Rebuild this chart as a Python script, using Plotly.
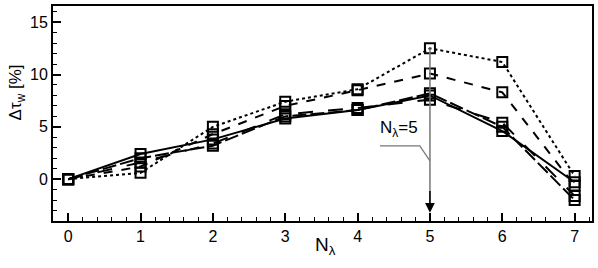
import plotly.graph_objects as go

n_lambda = [0, 1, 2, 3, 4, 5, 6, 7]
dotted_vals = [0, 0.6, 5.0, 7.4, 8.6, 12.5, 11.2, 0.3]
dashed_vals = [0, 1.2, 4.3, 7.0, 8.5, 10.1, 8.3, -0.6]
solid_vals = [0, 2.4, 3.8, 5.8, 6.6, 8.0, 4.6, -0.3]
longdash1_vals = [0, 1.6, 3.4, 6.2, 6.8, 7.6, 5.4, -1.6]
longdash2_vals = [0, 2.0, 3.2, 6.0, 6.6, 8.2, 5.0, -2.0]

series = [
    (dotted_vals, "dot"),
    (dashed_vals, "dash"),
    (solid_vals, "solid"),
    (longdash1_vals, "longdash"),
    (longdash2_vals, "14px,4px"),
]

fig = go.Figure()
for vals, dash in series:
    fig.add_trace(go.Scatter(
        x=n_lambda, y=vals, mode="lines+markers",
        line=dict(color="black", width=2, dash=dash),
        marker=dict(symbol="square-open", size=10, color="black",
                    line=dict(width=2, color="black")),
        showlegend=False,
    ))

# vertical gray line at N=5 with arrow
fig.add_shape(type="line", x0=5, x1=5, y0=12.5, y1=-3.0,
              line=dict(color="#777777", width=1.5))
fig.add_annotation(x=5, y=-3.2, ax=5, ay=-1.0, xref="x", yref="y",
                   axref="x", ayref="y", text="", showarrow=True,
                   arrowhead=2, arrowsize=1.3, arrowwidth=1.5,
                   arrowcolor="black")
# leader line from label
fig.add_shape(type="path", path="M 4.31,3.18 L 4.86,3.18 L 5.0,1.75",
              line=dict(color="#777777", width=1.2))
fig.add_annotation(x=4.57, y=4.75, xref="x", yref="y",
                   text="N<sub>λ</sub>=5", showarrow=False,
                   font=dict(size=17, color="black"))

# axis titles
fig.add_annotation(x=0.505, y=-0.118, xref="paper", yref="paper",
                   xanchor="center", yanchor="middle",
                   text="N<sub>λ</sub>", showarrow=False,
                   font=dict(size=19, color="black"))
fig.add_annotation(x=-0.066, y=0.6, xref="paper", yref="paper",
                   xanchor="center", yanchor="middle",
                   text="Δτ<sub>w</sub> [%]", showarrow=False, textangle=-90,
                   font=dict(size=17, color="black"))

axis_common = dict(
    showline=True, linecolor="black", linewidth=2, mirror=True,
    ticks="inside", ticklen=8, tickwidth=1.5, tickcolor="black",
    showgrid=False, zeroline=False, automargin=False,
    tickfont=dict(size=16, color="black"),
)

fig.update_xaxes(
    range=[-0.21, 7.24], tickvals=[0, 1, 2, 3, 4, 5, 6, 7],
    minor=dict(dtick=0.2, ticks="inside", ticklen=4, tickcolor="black", tickwidth=1),
    **axis_common,
)
fig.update_yaxes(
    range=[-4, 16.55], tickvals=[0, 5, 10, 15],
    minor=dict(dtick=1, ticks="inside", ticklen=4, tickcolor="black", tickwidth=1),
    **axis_common,
)

fig.update_layout(
    width=598, height=268,
    margin=dict(l=53, r=6, t=6, b=47),
    plot_bgcolor="white", paper_bgcolor="white",
    font=dict(family="Liberation Sans, Arial, sans-serif", color="black"),
)

fig.write_html("out.html", config={"displayModeBar": False},
               post_script="document.body.style.margin='0';document.body.style.padding='0';")
